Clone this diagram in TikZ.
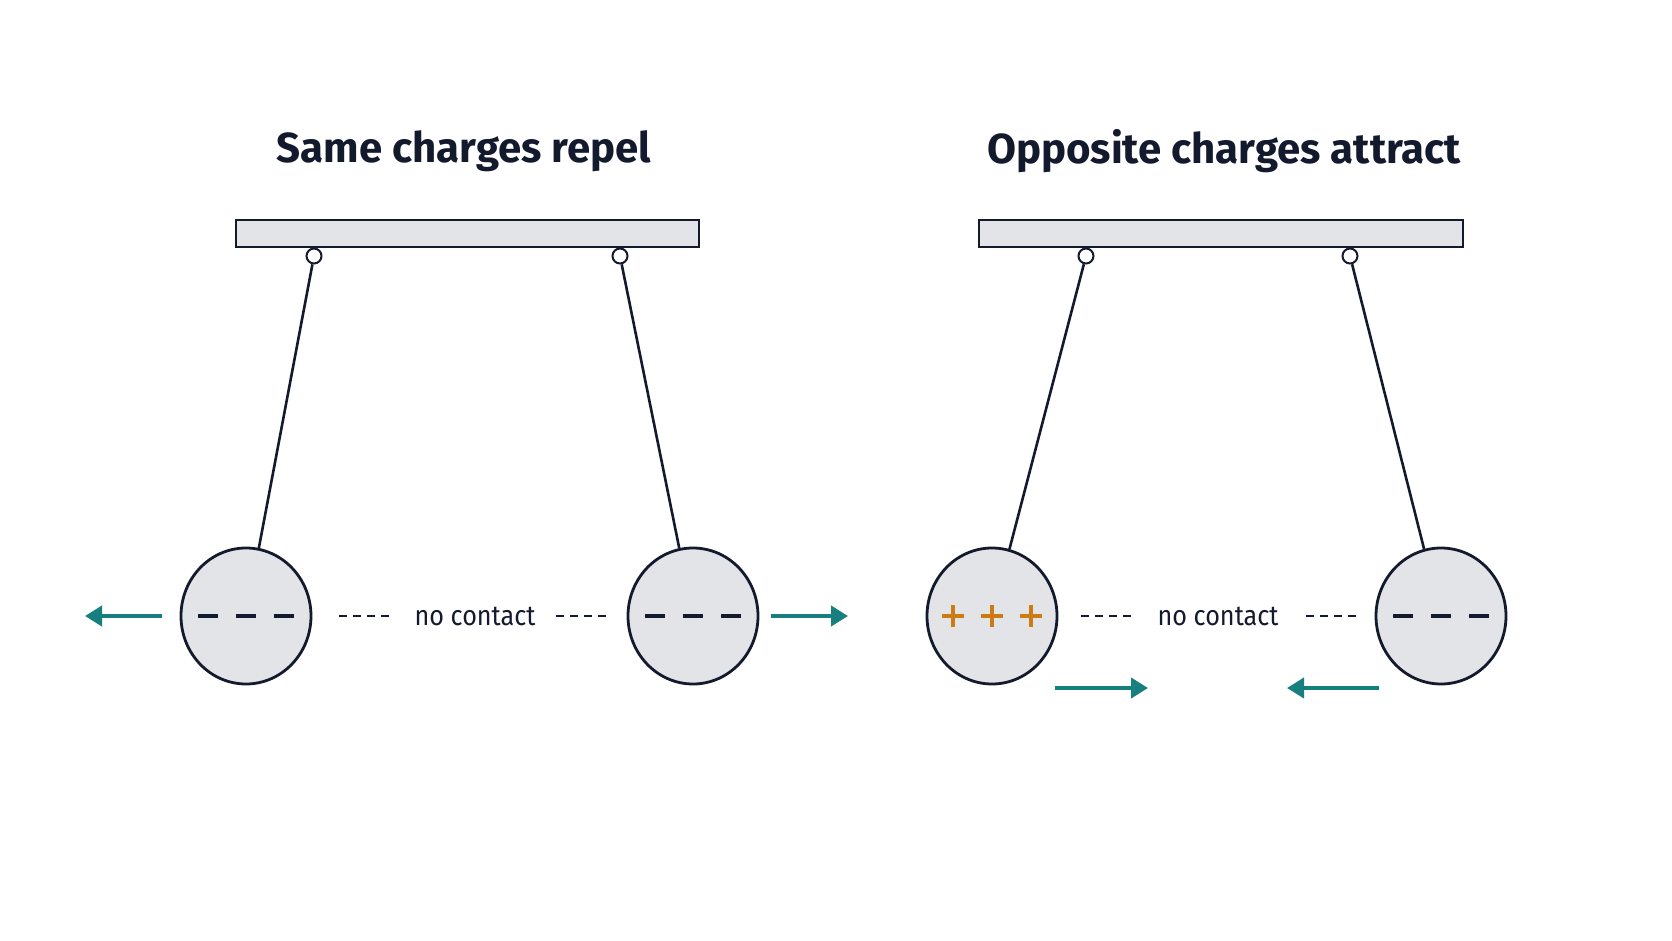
\documentclass[tikz,border=0pt]{standalone}
\usepackage{fontspec}
\setmainfont{Fira Sans}
\usetikzlibrary{shapes.geometric,arrows.meta}
\definecolor{ink}{HTML}{141A2E}
\definecolor{ballfill}{HTML}{E3E4E7}
\definecolor{teal}{HTML}{17807F}
\definecolor{plus}{HTML}{CC7A12}
\tikzset{
  bar/.style={draw=ink, line width=2.6pt, fill=ballfill},
  pivot/.style={circle, draw=ink, line width=2pt, fill=white, minimum size=15pt, inner sep=0pt},
  ball/.style={ellipse, draw=ink, line width=2.8pt, fill=ballfill, minimum width=130pt, minimum height=136pt},
  thread/.style={draw=ink, line width=2.6pt},
  force/.style={draw=teal, line width=4pt, -{Triangle[length=17pt,width=20pt]}},
  gap/.style={draw=ink, line width=2.2pt, dash pattern=on 8pt off 6pt},
  neg/.style={draw=ink, line width=4pt},
  title/.style={text=ink, font=\fontsize{42}{48}\selectfont\bfseries},
  lab/.style={text=ink, font=\fontsize{28}{32}\selectfont}
}
\begin{document}
\begin{tikzpicture}[x=1pt,y=-1pt]
  \useasboundingbox[fill=white] (0,0) rectangle (1672,941);

  % left panel: same charges
  \node[title] (t1) at (464,151) {Same charges repel};
  \draw[bar] (236,220) rectangle (699,247);
  \node[ball] (b1) at (246,616) {};
  \node[ball] (b2) at (693,616) {};
  \node[pivot] (p1) at (314,256) {};
  \node[pivot] (p2) at (620,256) {};
  \draw[thread] (p1) -- (b1);
  \draw[thread] (p2) -- (b2);
  \foreach \cx in {246,693}
    \foreach \dx in {-38,0,38}
      \draw[neg] (\cx+\dx-10,616) -- (\cx+\dx+10,616);
  \node[lab, xscale=0.9] (n1) at (475,616) {no contact};
  \draw[gap] (339,616) -- (391,616);
  \draw[gap] (556,616) -- (608,616);
  \coordinate (a1s) at (162,616); \coordinate (a1e) at (85,616);
  \coordinate (a2s) at (771,616); \coordinate (a2e) at (848,616);
  \draw[force] (a1s) -- (a1e);
  \draw[force] (a2s) -- (a2e);

  % right panel: opposite charges
  \node[title] (t2) at (1224,151) {Opposite charges attract};
  \draw[bar] (979,220) rectangle (1463,247);
  \node[ball] (b3) at (992,616) {};
  \node[ball] (b4) at (1441,616) {};
  \node[pivot] (p3) at (1086,256) {};
  \node[pivot] (p4) at (1350,256) {};
  \draw[thread] (p3) -- (b3);
  \draw[thread] (p4) -- (b4);
  \foreach \dx in {-39,0,39}
    \draw[plus, line width=4pt] (992+\dx-11,616) -- (992+\dx+11,616)
      (992+\dx,605) -- (992+\dx,627);
  \foreach \dx in {-38,0,38}
    \draw[neg] (1441+\dx-10,616) -- (1441+\dx+10,616);
  \node[lab, xscale=0.9] (n2) at (1218,616) {no contact};
  \draw[gap] (1081,616) -- (1134,616);
  \draw[gap] (1306,616) -- (1357,616);
  \coordinate (a3s) at (1055,688); \coordinate (a3e) at (1148,688);
  \coordinate (a4s) at (1379,688); \coordinate (a4e) at (1287,688);
  \draw[force] (a3s) -- (a3e);
  \draw[force] (a4s) -- (a4e);
\end{tikzpicture}
\end{document}
